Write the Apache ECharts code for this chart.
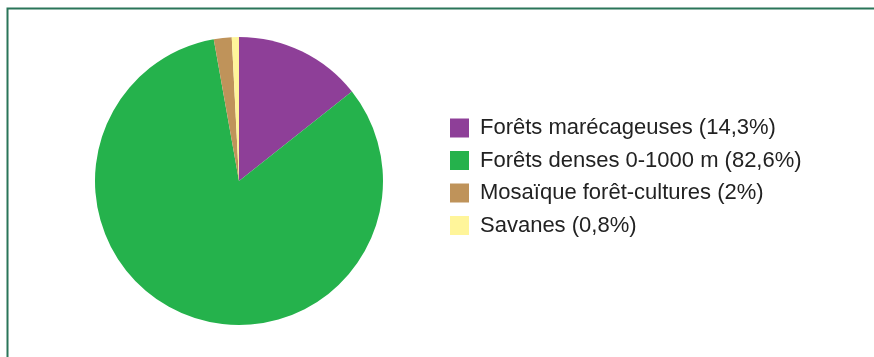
<!DOCTYPE html>
<html>
<head>
<meta charset="utf-8">
<script src="https://cdn.jsdelivr.net/npm/echarts@6/dist/echarts.min.js"></script>
<style>
  html, body { margin: 0; padding: 0; background: #fff; }
  #chart { width: 874px; height: 357px; }
</style>
</head>
<body>
<div id="chart"></div>
<script>
// Land cover categories and their shares (%)
const categories = [
  'Forêts marécageuses',
  'Forêts denses 0-1000 m',
  'Mosaïque forêt-cultures',
  'Savanes'
];
const shares = [14.3, 82.6, 2, 0.8];
const shareLabels = ['14,3', '82,6', '2', '0,8'];
const colors = ['#8e3f98', '#25b24c', '#bf935a', '#fff59a'];

const labelByName = {};
categories.forEach((c, i) => { labelByName[c] = c + ' (' + shareLabels[i] + '%)'; });

const chart = echarts.init(document.getElementById('chart'), null, { renderer: 'canvas' });
chart.setOption({
  animation: false,
  backgroundColor: '#ffffff',
  color: colors,
  graphic: [{
    type: 'rect',
    shape: { x: 7.5, y: 8.5, width: 900, height: 400 },
    style: { fill: 'none', stroke: '#2a7559', lineWidth: 2 },
    silent: true
  }],
  legend: {
    orient: 'vertical',
    left: 450,
    top: 117,
    padding: 0,
    itemWidth: 19,
    itemHeight: 19,
    itemGap: 10.5,
    icon: 'rect',
    selectedMode: false,
    formatter: name => labelByName[name],
    itemStyle: { borderWidth: 0 },
    textStyle: {
      fontFamily: 'Liberation Sans, Arial, sans-serif',
      fontSize: 22,
      color: '#222222',
      padding: [0, 0, 0, 6]
    },
    data: categories
  },
  series: [{
    type: 'pie',
    center: [239, 181],
    radius: 144,
    startAngle: 90,
    clockwise: true,
    silent: true,
    label: { show: false },
    labelLine: { show: false },
    itemStyle: { borderWidth: 0 },
    data: categories.map((c, i) => ({ name: c, value: shares[i] }))
  }]
});
</script>
</body>
</html>
